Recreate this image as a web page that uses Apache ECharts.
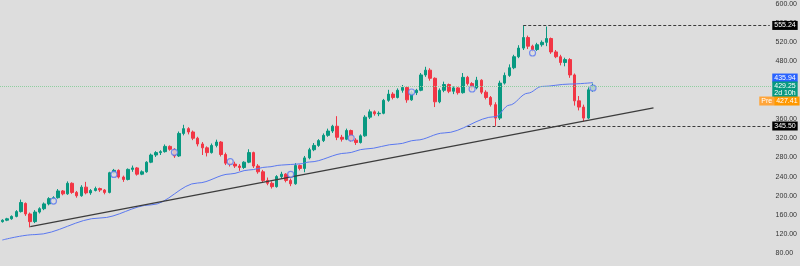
<!DOCTYPE html>
<html><head><meta charset="utf-8">
<script src="https://cdn.jsdelivr.net/npm/echarts@6/dist/echarts.min.js"></script>
<style>html,body{margin:0;padding:0;background:#dddddd}#c{width:800px;height:266px}</style>
</head><body><div id="c"></div>
<script>
// ---- data (weekly candles) ----
const opens = [
 146,149,152,157,167,184,162,146,166,173,
 183,194,196,210,204,226,207,200,218,206,
 211,215,212,207,248,253,239,234,255,258,
 245,250,270,285,290,292,303,297,283,330,
 340,333,320,308,300,290,305,312,286,268,
 266,262,259,270,290,262,250,232,226,219,
 240,245,232,225,263,257,279,296,305,315,
 326,335,345,322,318,336,316,311,325,364,
 375,371,372,399,412,405,420,426,400,415,
 420,452,462,445,396,420,432,418,425,415,
 447,434,425,441,416,405,390,362,435,451,
 467,490,508,530,512,505,515,520,528,500,
 490,478,484,452,398,385,362,421];
const highs = [
 151,154,159,170,192,186,165,170,176,186,
 197,199,214,212,230,228,210,222,229,214,
 219,217,214,250,256,255,242,257,263,260,
 253,272,288,293,295,307,305,299,334,348,
 343,336,323,312,303,309,317,314,290,274,
 271,266,272,297,292,266,254,238,230,243,
 250,247,236,268,265,283,300,310,318,330,
 340,348,366,327,340,338,320,328,368,380,
 378,376,402,421,416,424,431,428,419,423,
 456,469,466,447,424,438,434,428,427,456,
 450,437,448,443,420,408,395,440,457,474,
 494,514,555.24,534,515,519,524,553,530,504,
 494,488,487,455,408,390,426,434];
const lows = [
 144,147,150,155,165,158,134,143,163,170,
 180,192,194,201,202,204,196,198,203,202,
 209,208,203,205,246,236,229,232,250,242,
 243,248,268,281,285,290,294,279,281,326,
 328,316,303,285,282,288,301,282,264,261,
 258,252,256,268,258,246,228,222,215,217,
 236,228,220,223,253,249,276,293,302,312,
 323,331,316,313,316,313,306,309,323,360,
 367,366,370,396,401,403,415,394,398,410,
 418,448,440,385,393,416,414,412,411,413,
 430,420,422,412,401,386,345.5,358,432,448,
 464,487,504,506,500,502,511,512,496,487,
 472,470,446,388,378,355,360,417];
const closes = [
 149,152,157,167,186,162,146,166,173,183,
 194,196,210,204,226,207,200,218,206,211,
 215,212,207,248,253,239,234,255,258,245,
 250,270,285,290,292,303,297,283,330,340,
 333,320,308,300,290,305,312,286,268,266,
 262,259,270,290,262,250,232,226,219,240,
 245,232,225,263,257,279,296,305,315,326,
 335,345,322,318,336,316,311,325,364,375,
 371,372,399,412,405,420,426,400,415,420,
 452,462,445,396,420,432,418,425,415,447,
 434,425,441,416,405,390,362,435,451,467,
 490,508,530,512,505,515,520,528,500,490,
 478,484,452,398,385,362,421,429.25];
// moving average read at [bar index, price]
const maPoints = [[0,107.7],[7,119],[21,153.6],[32,181],[42,226.6],[49,245.4],[53,253.7],[57,260],[60,264],[64,266.5],[66,270.4],[74,289],[78,297.5],[85,308],[89,316],[95,331],[106,365],[109,389],[113,414],[116,428],[122,433],[127,435.94]];
// trend line anchors [bar index, price]
const trendPoints = [[6,135.6],[140,383.1]];
// event markers [bar index, price]
const markerPoints = [[11,189],[24,244.4],[37,290.6],[49,271],[62,244.7],[75,320.5],[88,416.4],[101,422.7],[114,497.8],[127,424.8]];
// price-scale tick labels
const tickValues = [80,120,160,200,240,280,320,360,400,440,480,520,560,600];
const highLevel = 555.24, highLevelStart = 112;
const lowLevel = 345.50, lowLevelStart = 100;
const maLast = 435.94, lastPrice = 429.25, prePrice = 427.41, countdown = '2d 10h';
const totalSlots = 166;
const yMin = 53.5, yMax = 608.3;

// ---- chart ----
const cats = Array.from({length: totalSlots}, (_, i) => String(i));
const candles = opens.map((o, i) => [o, closes[i], lows[i], highs[i]]);
const lastIdx = totalSlots - 1;
const FONT = 'Liberation Sans';
const boxLabel = (text, bg, dy) => ({
  show: true, position: 'right', distance: 2, formatter: text,
  color: '#fff', backgroundColor: bg, fontSize: 7, fontFamily: FONT,
  padding: [1, 2, 1, 2], lineHeight: 7, offset: [0, dy]
});
const hiddenSym = {symbol: 'rect', symbolSize: 1, itemStyle: {color: 'rgba(0,0,0,0)'}};

const chart = echarts.init(document.getElementById('c'), null, {renderer: 'canvas'});
chart.setOption({
  animation: false,
  backgroundColor: '#dddddd',
  grid: {left: 0, right: 23, top: 0, bottom: 0},
  xAxis: {type: 'category', data: cats, boundaryGap: true, show: false},
  yAxis: {
    type: 'value', position: 'right', min: yMin, max: yMax,
    splitLine: {show: false}, axisLine: {show: false},
    axisTick: {show: false, customValues: tickValues},
    axisLabel: {customValues: tickValues, margin: 3.5, color: '#333', fontSize: 7, fontFamily: FONT, formatter: v => v.toFixed(2)}
  },
  series: [
    {
      type: 'candlestick', data: candles, barWidth: 3,
      itemStyle: {color: '#089981', color0: '#f23645', borderColor: '#089981', borderColor0: '#f23645', borderWidth: 1},
      markLine: {
        silent: true, symbol: 'none', animation: false,
        label: {show: false},
        data: [
          [{coord: [highLevelStart, highLevel]}, {coord: [lastIdx, highLevel]}],
          [{coord: [lowLevelStart, lowLevel]}, {coord: [lastIdx, lowLevel]}],
          {yAxis: lastPrice, lineStyle: {color: '#8fcf9f', type: 'dotted', width: 1}}
        ],
        lineStyle: {color: '#3a3a3a', type: [3, 2], width: 1}
      },
      markPoint: {
        silent: true, animation: false,
        data: [
          Object.assign({coord: [lastIdx, highLevel], label: boxLabel(highLevel.toFixed(2), '#000', 0)}, hiddenSym),
          Object.assign({coord: [lastIdx, lowLevel], label: boxLabel(lowLevel.toFixed(2), '#000', 0)}, hiddenSym),
          Object.assign({coord: [lastIdx, maLast], label: boxLabel(maLast.toFixed(2), '#2962ff', -4.6)}, hiddenSym),
          Object.assign({coord: [lastIdx, lastPrice], label: boxLabel(lastPrice.toFixed(2) + '\n' + countdown, '#089981', 3.6)}, hiddenSym),
          Object.assign({coord: [lastIdx, prePrice], label: {
            show: true, position: 'right', distance: 2, offset: [-13, 14.3],
            formatter: '{p|Pre}{v|' + prePrice.toFixed(2) + '}',
            rich: {
              p: {color: '#fff', backgroundColor: '#ffa53a', fontSize: 7, fontFamily: FONT, padding: [1, 2, 1, 2], lineHeight: 7},
              v: {color: '#fff', backgroundColor: '#ff9800', fontSize: 7, fontFamily: FONT, padding: [1, 2, 1, 2], lineHeight: 7}
            }
          }}, hiddenSym)
        ]
      }
    },
    {
      type: 'line', data: maPoints, smooth: 0.35, smoothMonotone: 'x', symbol: 'none',
      lineStyle: {color: '#5a78f0', width: 1}, z: 3
    },
    {
      type: 'line', data: trendPoints, symbol: 'none',
      lineStyle: {color: '#3c3c3c', width: 1.3}, z: 3
    },
    {
      type: 'scatter', data: markerPoints, symbol: 'circle', symbolSize: 6,
      itemStyle: {color: '#dddddd', borderColor: '#5a78f0', borderWidth: 1.2}, z: 4
    }
  ]
});
</script>
</body></html>
